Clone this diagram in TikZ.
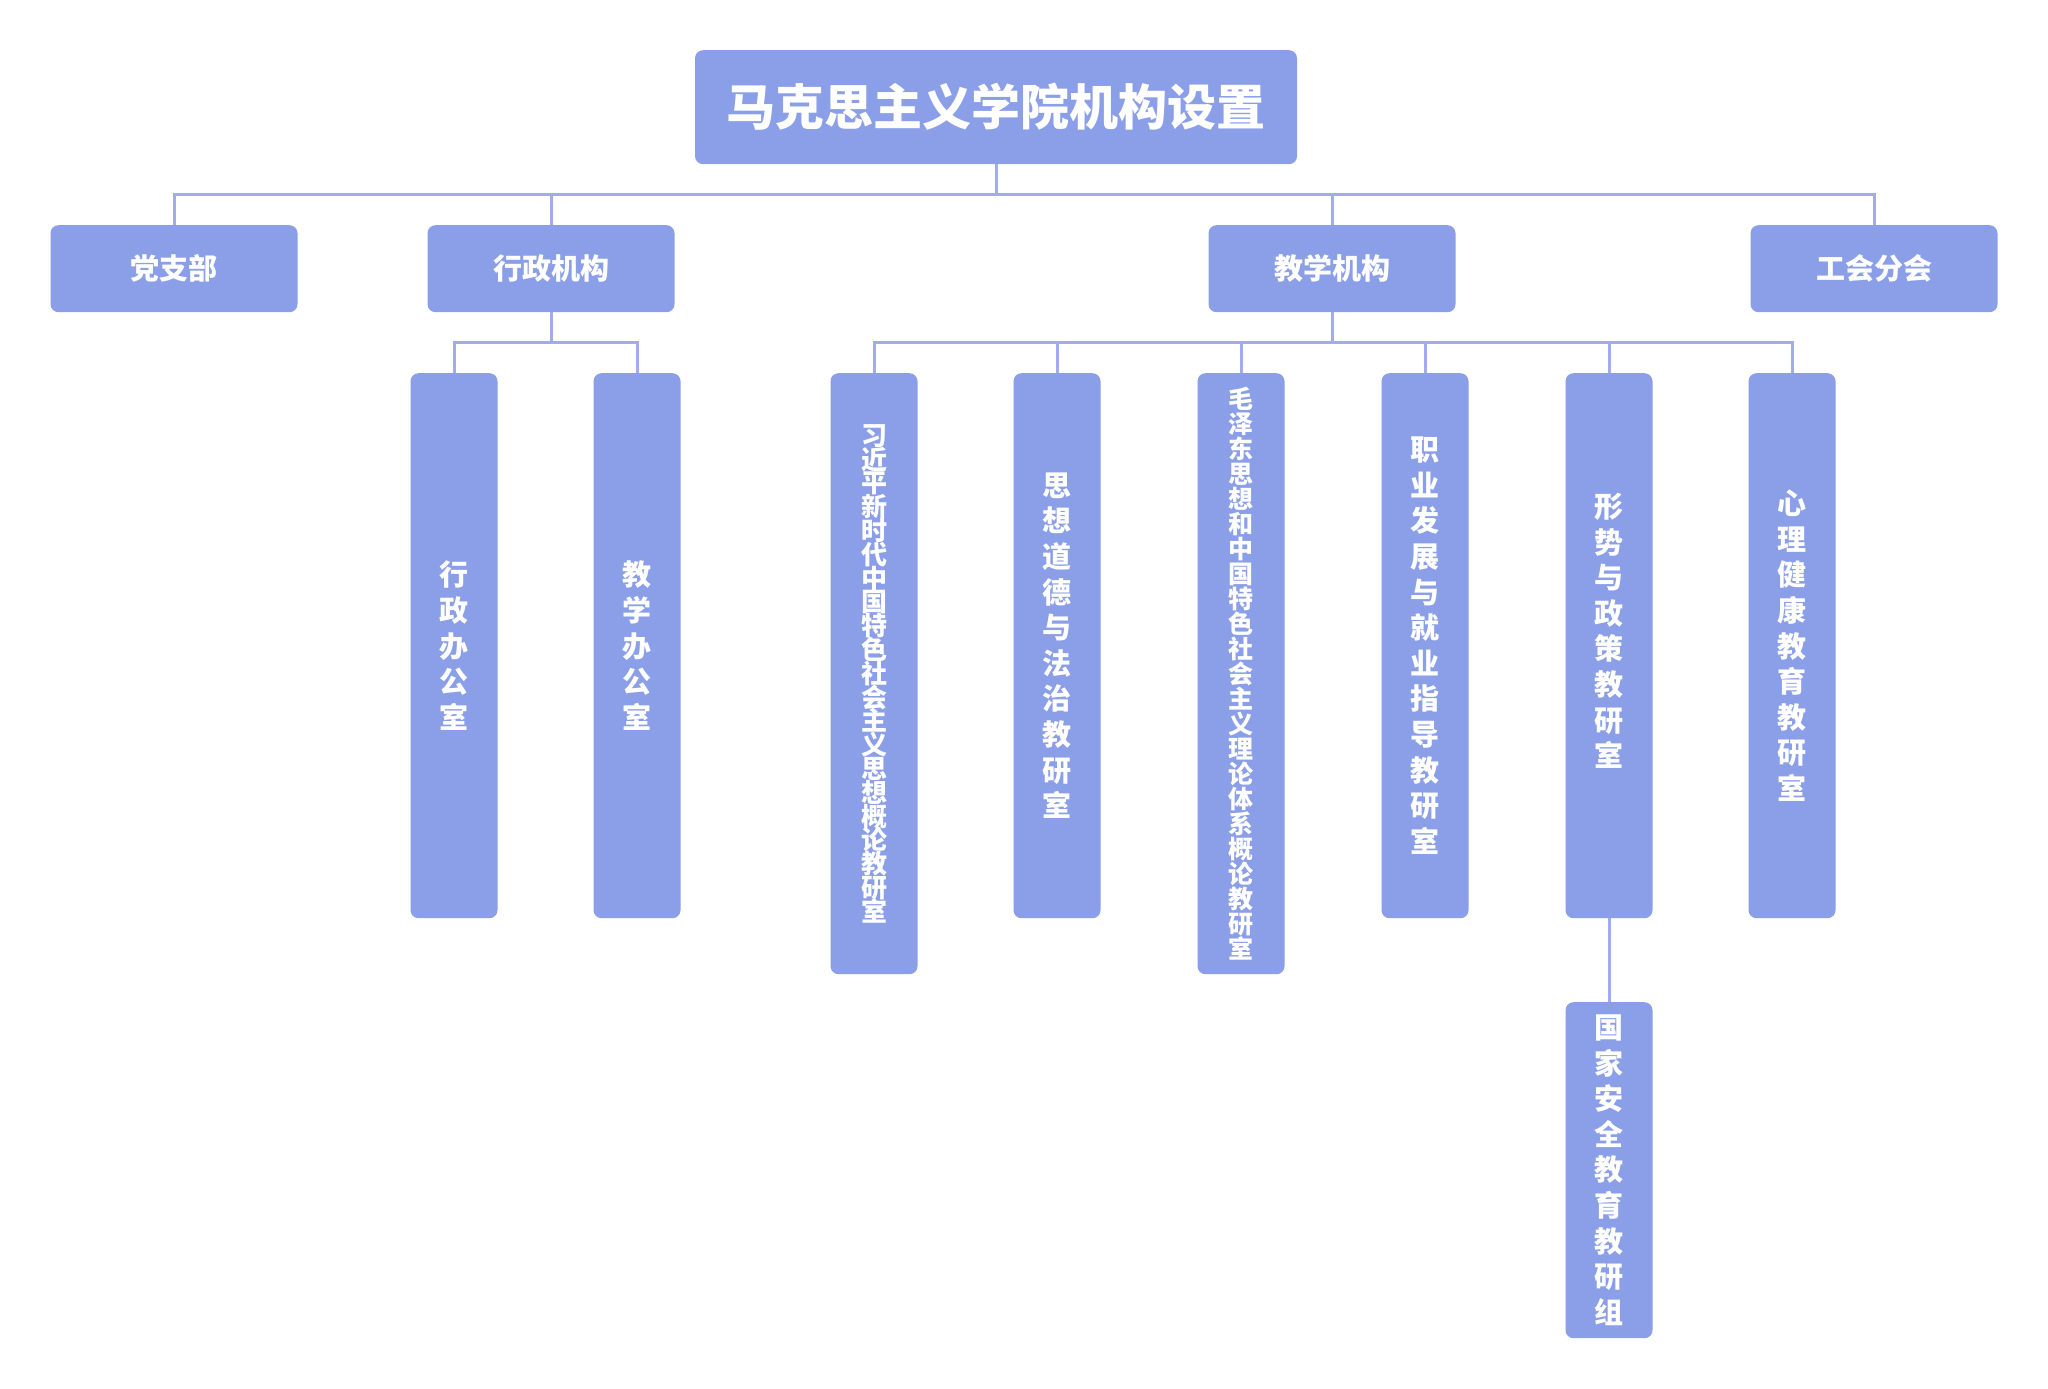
\documentclass[tikz,border=0pt]{standalone}
\usepackage{fontspec}
\newfontfamily\cjk{Noto Sans CJK SC}
\definecolor{boxc}{HTML}{8A9FE8}
\definecolor{linec}{HTML}{A3ABEF}
\begin{document}
\lineskiplimit=-100pt
\lineskip=0pt
\begin{tikzpicture}[x=1pt,y=-1pt,
  box/.style={fill=boxc, rounded corners=8pt, inner sep=0pt, text=white,
    anchor=north, align=center},
  titlebox/.style={box, minimum width=602pt, minimum height=114pt,
    font=\cjk\bfseries\fontsize{49}{52}\selectfont},
  topbox/.style={box, minimum width=247pt, minimum height=87pt,
    font=\cjk\bfseries\fontsize{29}{32}\selectfont},
  vbox/.style={box, minimum width=87pt, minimum height=545pt,
    font=\cjk\bfseries\fontsize{29}{35.6}\selectfont},
  longbox/.style={box, minimum width=87pt, minimum height=601pt},
  conn/.style={draw=linec, line width=3pt},
  ]
\useasboundingbox[fill=white] (0,0) rectangle (2048,1389);

% title and first level
\node[titlebox] (title) at (996,50) {马克思主义学院机构设置};
\node[topbox] (dang) at (174,225) {党支部};
\node[topbox] (xz) at (551,225) {行政机构};
\node[topbox] (jx) at (1332,225) {教学机构};
\node[topbox] (gh) at (1874,225) {工会分会};

% administrative offices
\node[vbox] (xzb) at (454,373) {行\\政\\办\\公\\室};
\node[vbox] (jxb) at (637,373) {教\\学\\办\\公\\室};

% teaching offices
\node[longbox, font=\cjk\bfseries\fontsize{26}{23.8}\selectfont] (a1) at (874,373)
  {习\\近\\平\\新\\时\\代\\中\\国\\特\\色\\社\\会\\主\\义\\思\\想\\概\\论\\教\\研\\室};
\node[vbox] (a2) at (1057,373) {思\\想\\道\\德\\与\\法\\治\\教\\研\\室};
\node[longbox, font=\cjk\bfseries\fontsize{25}{25}\selectfont] (a3) at (1241,373)
  {毛\\泽\\东\\思\\想\\和\\中\\国\\特\\色\\社\\会\\主\\义\\理\\论\\体\\系\\概\\论\\教\\研\\室};
\node[vbox] (a4) at (1425,373) {职\\业\\发\\展\\与\\就\\业\\指\\导\\教\\研\\室};
\node[vbox] (a5) at (1609,373) {形\\势\\与\\政\\策\\教\\研\\室\\[-4pt]\mbox{}};
\node[vbox] (a6) at (1792,373) {心\\理\\健\\康\\教\\育\\教\\研\\室};
\node[vbox, minimum height=336pt] (gj) at (1609,1002) {国\\家\\安\\全\\教\\育\\教\\研\\组};

% connectors
\coordinate (bus1) at (0,194);
\coordinate (bus2) at (0,342);
\draw[conn] (title.south) -- (title.south |- bus1);
\draw[conn] (dang.north) |- (gh.north |- bus1) -- (gh.north);
\draw[conn] (xz.north) -- (xz.north |- bus1);
\draw[conn] (jx.north) -- (jx.north |- bus1);

\draw[conn] (xz.south) -- (xz.south |- bus2);
\draw[conn] (xzb.north) |- (jxb.north |- bus2) -- (jxb.north);

\draw[conn] (jx.south) -- (jx.south |- bus2);
\draw[conn] (a1.north) |- (a6.north |- bus2) -- (a6.north);
\foreach \n in {a2,a3,a4,a5}
  \draw[conn] (\n.north) -- (\n.north |- bus2);
\draw[conn] (a5.south) -- (gj.north);
\end{tikzpicture}
\end{document}
